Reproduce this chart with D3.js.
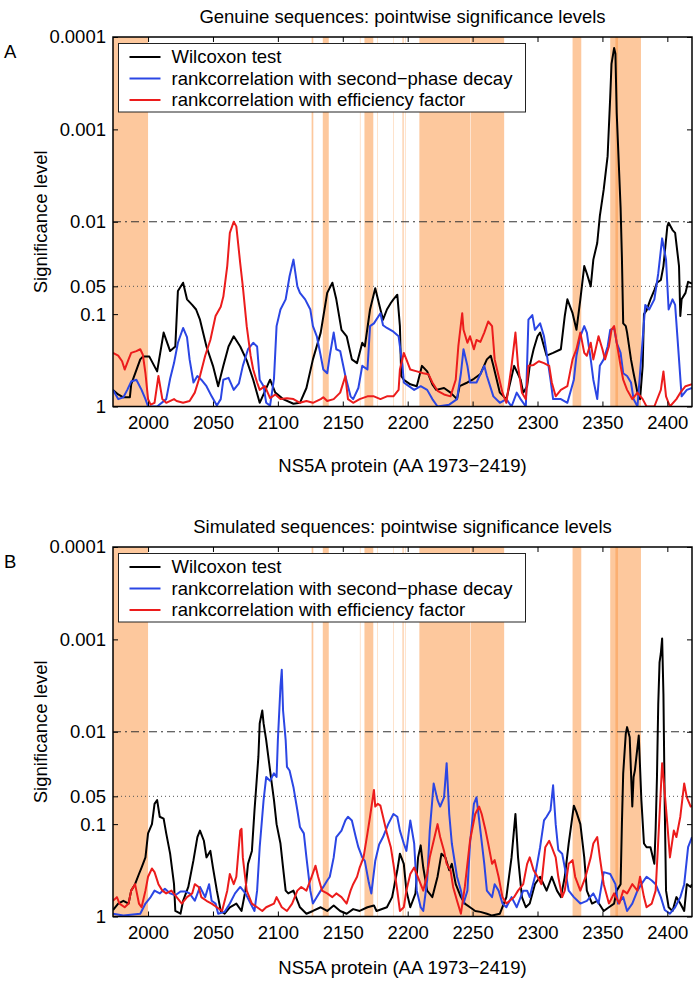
<!DOCTYPE html>
<html>
<head>
<meta charset="utf-8">
<script src="https://cdn.jsdelivr.net/npm/d3@7/dist/d3.min.js"></script>
<style>
  body { margin: 0; background: #fff; }
  text { font-family: "Liberation Sans", Arial, Helvetica, sans-serif; }
</style>
</head>
<body>
<svg></svg>
<script>
// x axis: amino-acid position in NS5A, y: significance level (stored as -log10 p)
const aaStart = 1973, aaEnd = 2419;
const xTicks = [2000, 2050, 2100, 2150, 2200, 2250, 2300, 2350, 2400];
const pTicks = [1, 0.1, 0.05, 0.01, 0.001, 0.0001];
const pTickLabels = ['1', '0.1', '0.05', '0.01', '0.001', '0.0001'];
const seriesNames = ['Wilcoxon test', 'rankcorrelation with second\u2212phase decay', 'rankcorrelation with efficiency factor'];
const seriesColors = ['#000000', '#2b46e4', '#ec1c1c'];

// shaded stretches of the protein (AA from, AA to)
const shadedRegions = [
    [1973, 2000], [2126, 2127.3], [2134.6, 2139.2], [2163.2, 2163.6], [2166.7, 2173.5],
    [2176.5, 2176.9], [2188.8, 2189.2], [2196, 2196.9], [2197.9, 2198.3],
    [2209, 2248], [2248.4, 2274.3], [2327, 2333.7], [2356, 2379.7], [2360, 2362]
];

// panel A, genuine sequences: [AA, -log10(p)]
const wilcoxonGenuine = [[1973,0.18],[1977,0.13],[1981,0.10],[1986,0.10],[1987,0.24],[1994,0.51],[1996,0.54],[2001,0.54],[2007,0.38],[2012,0.80],[2017,0.60],[2021,0.65],[2023,1.25],[2027,1.34],[2030,1.16],[2034,1.10],[2037,1.05],[2040,0.94],[2045,0.65],[2050,0.44],[2054,0.22],[2058,0.44],[2062,0.65],[2066,0.76],[2071,0.65],[2076,0.50],[2081,0.29],[2086,0.04],[2094,0.29],[2098,0.15],[2104,0.08],[2112,0.03],[2117,0.04],[2122,0.20],[2127,0.51],[2133,0.80],[2138,1.23],[2142,1.34],[2145,1.16],[2149,0.83],[2153,0.76],[2157,0.51],[2161,0.47],[2165,0.69],[2167,0.65],[2171,1.05],[2175,1.28],[2179,1.05],[2181,0.94],[2184,1.05],[2187,1.12],[2189,1.16],[2192,1.21],[2194,0.87],[2195,0.33],[2197,0.29],[2202,0.24],[2207,0.22],[2211,0.44],[2215,0.38],[2219,0.24],[2222,0.18],[2228,0.20],[2233,0.15],[2238,0.08],[2240,0.22],[2246,0.26],[2251,0.30],[2256,0.35],[2261,0.51],[2264,0.55],[2266,0.44],[2271,0.15],[2276,0.08],[2282,0.44],[2287,0.29],[2289,0.15],[2292,0.22],[2294,0.44],[2297,0.62],[2300,0.76],[2302,0.80],[2305,0.65],[2307,0.55],[2312,0.58],[2318,0.62],[2321,0.98],[2323,1.16],[2327,1.01],[2330,0.83],[2333,1.16],[2336,1.52],[2338,1.44],[2341,1.30],[2343,1.59],[2346,1.77],[2348,2.06],[2351,2.35],[2354,2.71],[2356,3.35],[2357,3.71],[2359,3.88],[2360,3.82],[2361,3.18],[2364,2.15],[2365,1.62],[2366,0.90],[2368,0.87],[2369,0.80],[2372,0.51],[2374,0.36],[2377,0.15],[2379,0.08],[2381,0.44],[2382,1.00],[2384,1.04],[2387,1.16],[2390,1.26],[2392,1.34],[2395,1.37],[2397,1.52],[2400,1.95],[2401,1.99],[2404,1.91],[2406,1.88],[2409,1.52],[2410,0.98],[2411,1.16],[2414,1.23],[2416,1.35],[2419,1.33]];
const decayGenuine = [[1973,0.18],[1977,0.08],[1981,0.10],[1984,0.18],[1987,0.27],[1991,0.29],[1995,0.18],[1998,0.08],[2000,0.00],[2007,0.00],[2014,0.08],[2017,0.30],[2020,0.47],[2023,0.69],[2027,0.85],[2030,0.75],[2032,0.51],[2035,0.26],[2038,0.33],[2041,0.29],[2045,0.22],[2049,0.11],[2053,0.01],[2056,0.08],[2058,0.29],[2062,0.31],[2066,0.18],[2070,0.25],[2073,0.44],[2077,0.62],[2081,0.69],[2084,0.65],[2086,0.29],[2089,0.22],[2091,0.04],[2094,0.01],[2097,0.30],[2099,0.87],[2102,1.05],[2106,1.16],[2109,1.41],[2112,1.59],[2115,1.30],[2117,1.23],[2121,1.16],[2125,1.05],[2127,0.87],[2130,0.76],[2133,0.55],[2135,0.40],[2138,0.36],[2140,0.55],[2143,0.80],[2145,0.62],[2148,0.60],[2152,0.33],[2156,0.11],[2158,0.08],[2162,0.20],[2165,0.44],[2169,0.40],[2171,0.87],[2174,0.90],[2179,1.01],[2181,0.88],[2184,0.85],[2189,0.81],[2193,0.76],[2196,0.44],[2197,0.26],[2199,0.24],[2205,0.18],[2210,0.22],[2215,0.18],[2219,0.08],[2223,0.00],[2232,0.02],[2238,0.08],[2241,0.36],[2243,0.62],[2246,0.44],[2248,0.26],[2253,0.26],[2259,0.44],[2261,0.33],[2266,0.11],[2271,0.04],[2276,0.08],[2280,0.00],[2284,0.15],[2287,0.08],[2291,0.00],[2293,0.94],[2296,0.99],[2298,0.83],[2302,0.90],[2305,0.76],[2307,0.58],[2310,0.29],[2312,0.08],[2318,0.08],[2323,0.04],[2328,0.29],[2330,0.55],[2333,0.76],[2336,0.87],[2338,0.80],[2341,0.51],[2343,0.29],[2346,0.08],[2348,0.44],[2351,0.51],[2354,0.65],[2356,0.83],[2359,0.85],[2361,0.69],[2364,0.58],[2366,0.36],[2369,0.33],[2372,0.26],[2374,0.08],[2377,0.00],[2381,0.73],[2383,1.10],[2386,1.05],[2390,1.16],[2393,1.44],[2396,1.82],[2399,1.59],[2401,1.05],[2404,1.16],[2406,1.10],[2409,0.51],[2411,0.11],[2415,0.18],[2419,0.20]];
const efficiencyGenuine = [[1973,0.58],[1977,0.55],[1980,0.49],[1982,0.40],[1985,0.51],[1987,0.58],[1991,0.60],[1994,0.62],[1996,0.56],[1998,0.36],[2000,0.08],[2002,0.02],[2005,0.04],[2008,0.33],[2011,0.08],[2014,0.04],[2020,0.08],[2022,0.06],[2027,0.04],[2032,0.06],[2036,0.15],[2040,0.33],[2044,0.55],[2048,0.72],[2052,0.98],[2056,1.08],[2058,1.19],[2061,1.52],[2063,1.88],[2066,2.00],[2068,1.95],[2071,1.55],[2073,1.30],[2076,0.87],[2079,0.55],[2081,0.40],[2084,0.26],[2086,0.18],[2090,0.22],[2094,0.09],[2098,0.13],[2102,0.08],[2107,0.09],[2112,0.08],[2117,0.04],[2122,0.06],[2127,0.04],[2133,0.08],[2135,0.10],[2138,0.06],[2143,0.08],[2148,0.15],[2152,0.33],[2154,0.08],[2158,0.04],[2163,0.08],[2169,0.11],[2174,0.11],[2179,0.08],[2184,0.11],[2189,0.11],[2193,0.18],[2194,0.40],[2197,0.58],[2199,0.51],[2202,0.40],[2207,0.38],[2212,0.36],[2216,0.35],[2219,0.26],[2223,0.17],[2228,0.13],[2233,0.11],[2237,0.29],[2239,0.65],[2242,1.01],[2243,0.83],[2246,0.69],[2248,0.76],[2251,0.62],[2253,0.72],[2256,0.70],[2259,0.80],[2262,0.92],[2265,0.87],[2267,0.51],[2270,0.33],[2273,0.15],[2276,0.04],[2280,0.44],[2283,0.80],[2285,0.44],[2288,0.15],[2291,0.08],[2293,0.44],[2297,0.45],[2301,0.49],[2305,0.47],[2309,0.44],[2311,0.26],[2314,0.11],[2318,0.18],[2323,0.22],[2327,0.51],[2330,0.62],[2333,0.80],[2336,0.58],[2338,0.55],[2341,0.69],[2343,0.51],[2347,0.76],[2350,0.62],[2352,0.51],[2355,0.65],[2357,0.83],[2359,0.87],[2361,0.69],[2364,0.44],[2366,0.29],[2369,0.18],[2373,0.08],[2377,0.15],[2381,0.08],[2384,0.00],[2390,0.00],[2395,0.18],[2397,0.38],[2399,0.11],[2402,0.00],[2407,0.08],[2410,0.15],[2414,0.22],[2419,0.24]];

// panel B, simulated sequences: [AA, -log10(p)]
const wilcoxonSimulated = [[1973,0.07],[1977,0.14],[1981,0.17],[1985,0.14],[1987,0.28],[1990,0.35],[1993,0.46],[1995,0.53],[1998,0.64],[2000,0.90],[2003,1.00],[2005,1.22],[2007,1.26],[2009,1.08],[2012,1.06],[2014,0.90],[2017,0.68],[2020,0.35],[2021,0.06],[2025,0.03],[2027,0.17],[2031,0.32],[2035,0.61],[2038,0.86],[2040,0.93],[2043,0.82],[2045,0.64],[2048,0.71],[2050,0.53],[2053,0.28],[2056,0.06],[2059,0.03],[2063,0.10],[2068,0.14],[2072,0.06],[2075,0.28],[2077,0.57],[2080,0.71],[2082,1.15],[2085,1.73],[2086,2.09],[2088,2.23],[2089,2.09],[2091,1.91],[2094,1.58],[2097,1.26],[2099,1.00],[2102,0.79],[2104,0.53],[2106,0.28],[2108,0.25],[2112,0.28],[2117,0.10],[2122,0.03],[2127,0.06],[2133,0.10],[2138,0.06],[2143,0.12],[2148,0.06],[2153,0.03],[2158,0.08],[2163,0.06],[2169,0.10],[2174,0.12],[2176,0.06],[2184,0.10],[2188,0.21],[2192,0.50],[2194,0.68],[2197,0.57],[2199,0.28],[2202,0.10],[2206,0.25],[2208,0.64],[2210,0.77],[2212,0.53],[2215,0.28],[2219,0.21],[2223,0.43],[2226,0.68],[2229,0.64],[2232,0.50],[2234,0.57],[2237,0.35],[2241,0.21],[2244,0.14],[2248,0.10],[2252,0.06],[2256,0.05],[2261,0.03],[2265,0.01],[2271,0.03],[2276,0.21],[2280,0.64],[2283,1.11],[2285,0.64],[2288,0.21],[2291,0.10],[2294,0.14],[2298,0.35],[2302,0.43],[2307,0.28],[2311,0.43],[2315,0.28],[2318,0.21],[2321,0.43],[2324,0.79],[2328,1.20],[2330,1.13],[2333,1.00],[2336,0.64],[2338,0.28],[2342,0.14],[2346,0.17],[2351,0.06],[2355,0.10],[2359,0.14],[2361,0.28],[2364,0.35],[2365,1.00],[2366,1.55],[2368,1.98],[2369,2.05],[2371,1.94],[2373,1.19],[2374,1.51],[2375,1.58],[2378,1.96],[2380,1.26],[2382,0.79],[2384,0.75],[2387,0.75],[2390,0.57],[2391,0.95],[2392,1.50],[2393,2.30],[2394,2.75],[2395,2.85],[2396,3.01],[2397,2.40],[2398,1.20],[2399,0.28],[2401,0.10],[2404,0.06],[2407,0.21],[2410,0.14],[2413,0.06],[2415,0.35],[2418,0.32],[2419,0.35]];
const decaySimulated = [[1973,0.03],[1981,0.01],[1994,0.03],[1998,0.14],[2002,0.21],[2005,0.28],[2009,0.25],[2013,0.30],[2017,0.25],[2021,0.23],[2025,0.27],[2029,0.27],[2032,0.25],[2036,0.17],[2040,0.32],[2044,0.21],[2047,0.35],[2049,0.17],[2052,0.14],[2054,0.03],[2059,0.05],[2063,0.14],[2067,0.25],[2071,0.32],[2075,0.25],[2079,0.14],[2082,0.06],[2084,0.28],[2086,0.75],[2089,1.26],[2091,1.51],[2094,1.47],[2097,1.55],[2099,1.51],[2100,1.91],[2102,2.49],[2103,2.67],[2104,2.23],[2106,1.91],[2107,1.62],[2109,1.58],[2112,1.40],[2115,1.15],[2117,0.97],[2120,0.90],[2122,0.64],[2125,0.28],[2127,0.14],[2130,0.21],[2133,0.28],[2135,0.32],[2138,0.39],[2140,0.43],[2143,0.64],[2145,0.86],[2149,0.93],[2152,1.04],[2154,1.08],[2157,1.04],[2160,0.86],[2162,0.75],[2165,0.64],[2167,0.60],[2170,0.37],[2172,0.25],[2175,0.60],[2178,0.78],[2181,0.86],[2185,1.00],[2189,1.11],[2192,1.08],[2194,0.93],[2197,0.79],[2199,0.71],[2202,1.04],[2205,0.79],[2207,0.28],[2210,0.10],[2212,0.06],[2215,0.39],[2217,0.93],[2220,1.44],[2223,1.26],[2225,1.19],[2228,1.29],[2230,1.66],[2232,1.11],[2234,0.79],[2238,0.43],[2241,0.28],[2243,0.14],[2246,0.28],[2248,0.79],[2251,1.22],[2253,1.29],[2256,0.93],[2259,0.57],[2261,0.28],[2265,0.21],[2267,0.35],[2270,0.28],[2273,0.14],[2276,0.10],[2280,0.21],[2284,0.10],[2287,0.21],[2289,0.28],[2292,0.28],[2294,0.21],[2298,0.43],[2302,0.75],[2305,1.04],[2307,1.08],[2310,1.15],[2312,1.42],[2314,1.00],[2316,0.72],[2319,0.68],[2321,0.53],[2324,0.28],[2328,0.21],[2333,0.14],[2338,0.17],[2343,0.25],[2347,0.14],[2351,0.48],[2356,0.46],[2360,0.35],[2362,0.14],[2366,0.21],[2369,0.06],[2373,0.14],[2377,0.28],[2380,0.35],[2384,0.43],[2388,0.39],[2391,0.35],[2395,0.21],[2398,0.07],[2402,0.03],[2406,0.10],[2410,0.21],[2413,0.35],[2416,0.75],[2419,0.86]];
const efficiencySimulated = [[1973,0.17],[1976,0.21],[1978,0.14],[1982,0.10],[1985,0.14],[1987,0.28],[1990,0.35],[1993,0.14],[1995,0.10],[1998,0.28],[2000,0.43],[2003,0.52],[2005,0.48],[2008,0.35],[2011,0.28],[2014,0.25],[2018,0.28],[2022,0.21],[2026,0.14],[2030,0.21],[2034,0.25],[2036,0.35],[2039,0.32],[2041,0.21],[2045,0.17],[2049,0.14],[2053,0.10],[2057,0.06],[2061,0.28],[2063,0.46],[2066,0.35],[2068,0.43],[2071,0.93],[2072,0.95],[2073,0.64],[2076,0.28],[2080,0.14],[2084,0.10],[2088,0.06],[2091,0.10],[2097,0.14],[2099,0.21],[2103,0.10],[2107,0.06],[2111,0.14],[2115,0.28],[2118,0.32],[2122,0.28],[2126,0.43],[2129,0.55],[2131,0.43],[2134,0.28],[2138,0.25],[2142,0.21],[2145,0.25],[2149,0.21],[2153,0.14],[2156,0.28],[2158,0.35],[2161,0.43],[2163,0.53],[2166,0.64],[2169,0.90],[2171,1.08],[2174,1.37],[2175,1.19],[2177,1.22],[2179,1.20],[2181,1.08],[2184,0.90],[2187,0.75],[2189,0.57],[2192,0.28],[2194,0.06],[2197,0.10],[2199,0.28],[2202,0.46],[2205,0.53],[2207,0.46],[2210,0.35],[2212,0.28],[2215,0.46],[2217,0.64],[2220,0.82],[2223,1.00],[2225,0.86],[2228,0.71],[2230,0.57],[2233,0.50],[2235,0.32],[2238,0.17],[2241,0.03],[2244,0.32],[2248,0.82],[2252,1.11],[2255,1.19],[2257,1.11],[2260,0.93],[2262,0.79],[2265,0.57],[2267,0.61],[2270,0.43],[2273,0.21],[2276,0.14],[2282,0.21],[2285,0.28],[2289,0.35],[2292,0.57],[2294,0.64],[2297,0.50],[2300,0.43],[2303,0.35],[2306,0.75],[2309,0.82],[2311,0.75],[2314,0.64],[2316,0.43],[2319,0.21],[2321,0.28],[2324,0.57],[2327,0.61],[2329,0.43],[2333,0.28],[2337,0.43],[2341,0.64],[2343,0.79],[2346,0.86],[2348,0.64],[2351,0.35],[2355,0.14],[2359,0.25],[2363,0.14],[2366,0.28],[2369,0.25],[2373,0.35],[2377,0.28],[2379,0.43],[2382,0.21],[2384,0.10],[2388,0.14],[2391,0.28],[2393,0.82],[2396,1.66],[2397,1.51],[2400,1.00],[2402,0.64],[2405,0.93],[2407,0.86],[2410,1.08],[2413,1.44],[2415,1.29],[2418,1.19],[2419,1.20]];

const panels = [
    { letter: 'A', title: 'Genuine sequences: pointwise significance levels', top: 37, xLabelY: 65,
      series: [wilcoxonGenuine, decayGenuine, efficiencyGenuine] },
    { letter: 'B', title: 'Simulated sequences: pointwise significance levels', top: 547, xLabelY: 57,
      series: [wilcoxonSimulated, decaySimulated, efficiencySimulated] }
];

let width = 700, height = 984;
let plotLeft = 113, plotW = 579, plotH = 369.5;
let fontSize = '18.5px';

let svg = d3.select('svg')
    .attr('width', width)
    .attr('height', height);

let x = d3.scaleLinear().domain([aaStart, aaEnd]).range([0, plotW]);
let y = d3.scaleLinear().domain([0, 4]).range([plotH, 0]);
let pToY = p => y(-Math.log10(p));

let line = d3.line()
    .x(d => x(d[0]))
    .y(d => y(d[1]));

panels.forEach((panel, pi) => {
    let g = svg.append('g').attr('transform', `translate(${plotLeft},${panel.top})`);

    g.append('clipPath').attr('id', 'clip' + pi)
        .append('rect').attr('width', plotW).attr('height', plotH);

    // orange shaded stretches
    g.append('g').selectAll('rect')
        .data(shadedRegions)
        .enter()
        .append('rect')
        .attr('x', d => x(d[0]))
        .attr('width', d => x(d[1]) - x(d[0]))
        .attr('y', 0)
        .attr('height', plotH)
        .attr('fill', '#fb9a4c')
        .attr('fill-opacity', 0.55);

    // 0.01 and 0.05 reference levels
    g.append('line')
        .attr('x1', 0).attr('x2', plotW)
        .attr('y1', pToY(0.01)).attr('y2', pToY(0.01))
        .attr('stroke', '#333').attr('stroke-width', 1)
        .attr('stroke-dasharray', '8,4,2,4');
    g.append('line')
        .attr('x1', 0).attr('x2', plotW)
        .attr('y1', pToY(0.05)).attr('y2', pToY(0.05))
        .attr('stroke', '#555').attr('stroke-width', 1)
        .attr('stroke-dasharray', '1,3');

    // series lines
    g.append('g').attr('clip-path', `url(#clip${pi})`)
        .selectAll('path')
        .data(panel.series)
        .enter()
        .append('path')
        .attr('d', line)
        .attr('fill', 'none')
        .attr('stroke', (d, i) => seriesColors[i])
        .attr('stroke-width', 2)
        .attr('stroke-linejoin', 'round');

    // axes with inward ticks
    let yVals = pTicks.map(p => -Math.log10(p));
    let bottom = g.append('g')
        .attr('transform', `translate(0,${plotH})`)
        .call(d3.axisBottom(x).tickValues(xTicks).tickFormat(d3.format('d'))
            .tickSizeInner(-5).tickSizeOuter(0).tickPadding(9));
    g.append('g')
        .call(d3.axisTop(x).tickValues(xTicks).tickFormat('').tickSizeInner(-5).tickSizeOuter(0));
    let left = g.append('g')
        .call(d3.axisLeft(y).tickValues(yVals).tickFormat((d, i) => pTickLabels[i])
            .tickSizeInner(-5).tickSizeOuter(0).tickPadding(7));
    g.append('g')
        .attr('transform', `translate(${plotW},0)`)
        .call(d3.axisRight(y).tickValues(yVals).tickFormat('').tickSizeInner(-5).tickSizeOuter(0));

    g.selectAll('.domain').remove();
    g.selectAll('.tick line').attr('stroke', '#000');
    [bottom, left].forEach(a => a.attr('font-size', fontSize)
        .attr('font-family', '"Liberation Sans", Arial, sans-serif'));
    g.selectAll('.tick text').attr('fill', '#000');

    // frame
    g.append('rect')
        .attr('width', plotW).attr('height', plotH)
        .attr('fill', 'none').attr('stroke', '#000').attr('stroke-width', 1.5);

    // legend
    let legend = g.append('g').attr('transform', 'translate(5.5,6.5)');
    legend.append('rect')
        .attr('width', 407).attr('height', 68.5)
        .attr('fill', '#fff').attr('stroke', '#222').attr('stroke-width', 1);
    let rows = legend.selectAll('g.row')
        .data(seriesNames)
        .enter()
        .append('g')
        .attr('transform', (d, i) => `translate(0,${13.5 + i * 21.5})`);
    rows.append('line')
        .attr('x1', 11).attr('x2', 42)
        .attr('stroke', (d, i) => seriesColors[i])
        .attr('stroke-width', 2);
    rows.append('text')
        .attr('x', 53).attr('dy', '0.35em')
        .style('font-size', fontSize)
        .text(d => d);

    // titles and labels
    g.append('text')
        .attr('x', plotW / 2).attr('y', -14)
        .attr('text-anchor', 'middle')
        .style('font-size', fontSize)
        .text(panel.title);
    g.append('text')
        .attr('x', -109).attr('y', 21)
        .style('font-size', fontSize)
        .text(panel.letter);
    g.append('text')
        .attr('transform', `translate(-66,${plotH / 2}) rotate(-90)`)
        .attr('text-anchor', 'middle')
        .style('font-size', fontSize)
        .text('Significance level');
    g.append('text')
        .attr('x', plotW / 2).attr('y', plotH + panel.xLabelY)
        .attr('text-anchor', 'middle')
        .style('font-size', fontSize)
        .text('NS5A protein (AA 1973\u22122419)');
});
</script>
</body>
</html>
